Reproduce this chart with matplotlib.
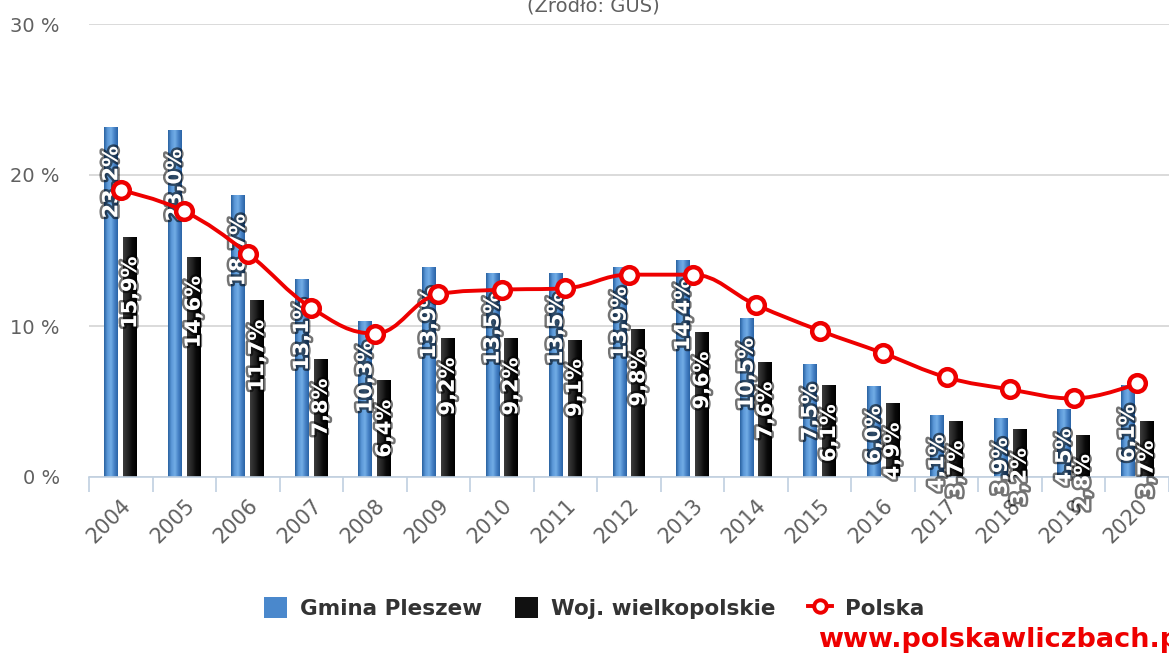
import matplotlib

matplotlib.use("Agg")

import matplotlib.pyplot as plt
import matplotlib.patheffects as pe
import numpy as np
from matplotlib.colors import LinearSegmentedColormap
from matplotlib.lines import Line2D
from matplotlib.patches import PathPatch, Patch
from matplotlib.path import Path

years = ["2004", "2005", "2006", "2007", "2008", "2009", "2010", "2011", "2012",
         "2013", "2014", "2015", "2016", "2017", "2018", "2019", "2020"]
gmina = [23.2, 23.0, 18.7, 13.1, 10.3, 13.9, 13.5, 13.5, 13.9, 14.4, 10.5,
         7.5, 6.0, 4.1, 3.9, 4.5, 6.1]
woj = [15.9, 14.6, 11.7, 7.8, 6.4, 9.2, 9.2, 9.1, 9.8, 9.6, 7.6,
       6.1, 4.9, 3.7, 3.2, 2.8, 3.7]
polska = [19.0, 17.6, 14.8, 11.2, 9.5, 12.1, 12.4, 12.5, 13.4, 13.4, 11.4,
          9.7, 8.2, 6.6, 5.8, 5.2, 6.2]
y_ticks = [0, 10, 20, 30]

RED = "#ee0000"
GREY = "#606060"

blue_cmap = LinearSegmentedColormap.from_list(
    "blue_bar", ["#2a62a0", "#5b98d8", "#72ade6", "#4682c6", "#2a64a6"])
black_cmap = LinearSegmentedColormap.from_list(
    "black_bar", ["#3c3c3c", "#262626", "#0a0a0a", "#000000"])


def gradient_bars(ax, xs, heights, width, cmap):
    grad = np.linspace(0, 1, 64).reshape(1, -1)
    for x, h in zip(xs, heights):
        rect = plt.Rectangle((x - width / 2, 0), width, h, facecolor="none",
                             edgecolor="none")
        ax.add_patch(rect)
        im = ax.imshow(grad, cmap=cmap, aspect="auto", zorder=2,
                       extent=(x - width / 2, x + width / 2, 0, h))
        im.set_clip_path(rect)


def spline_path(xs, ys, smoothing=1.5):
    # same control points as a Highcharts "spline" series
    xs = [float(v) for v in xs]
    ys = [float(v) for v in ys]
    n = len(xs)
    left = [(xs[i], ys[i]) for i in range(n)]
    right = [(xs[i], ys[i]) for i in range(n)]
    denom = smoothing + 1
    for i in range(1, n - 1):
        px, py = xs[i], ys[i]
        lx, ly = xs[i - 1], ys[i - 1]
        nx, ny = xs[i + 1], ys[i + 1]
        lcx = (smoothing * px + lx) / denom
        lcy = (smoothing * py + ly) / denom
        rcx = (smoothing * px + nx) / denom
        rcy = (smoothing * py + ny) / denom
        corr = 0.0
        if rcx != lcx:
            corr = (rcy - lcy) * (rcx - px) / (rcx - lcx) + py - rcy
        lcy += corr
        rcy += corr
        if lcy > ly and lcy > py:
            lcy = max(ly, py)
            rcy = 2 * py - lcy
        elif lcy < ly and lcy < py:
            lcy = min(ly, py)
            rcy = 2 * py - lcy
        if rcy > ny and rcy > py:
            rcy = max(ny, py)
            lcy = 2 * py - rcy
        elif rcy < ny and rcy < py:
            rcy = min(ny, py)
            lcy = 2 * py - rcy
        left[i] = (lcx, lcy)
        right[i] = (rcx, rcy)
    verts = [(xs[0], ys[0])]
    codes = [Path.MOVETO]
    for i in range(1, n):
        verts += [right[i - 1], left[i], (xs[i], ys[i])]
        codes += [Path.CURVE4] * 3
    return Path(verts, codes)


fig = plt.figure(figsize=(11.69, 6.62), dpi=100)
ax = fig.add_axes([89 / 1169, 1 - 477 / 662, 1080 / 1169, (477 - 24) / 662])

x = np.arange(len(years))
offset = 0.148
bar_w = 0.22

gradient_bars(ax, x - offset, gmina, bar_w, blue_cmap)
gradient_bars(ax, x + offset, woj, bar_w, black_cmap)

label_fx = [pe.withStroke(linewidth=3.5, foreground=(0, 0, 0, 0.55))]
for xi, g, w in zip(x, gmina, woj):
    for xx, v in ((xi - offset, g), (xi + offset, w)):
        ax.annotate(f"{v:.1f}%".replace(".", ","), xy=(xx, v),
                    xytext=(0, -14), textcoords="offset points",
                    rotation=90, ha="center", va="top", color="white",
                    fontsize=15, fontweight="bold", zorder=5,
                    path_effects=label_fx, annotation_clip=False)

ax.add_patch(PathPatch(spline_path(x, polska), facecolor="none",
                       edgecolor=RED, linewidth=2.8, zorder=6,
                       capstyle="round"))
ax.plot(x, polska, linestyle="none", marker="o", markersize=12,
        markerfacecolor="white", markeredgecolor=RED, markeredgewidth=3.2,
        zorder=7)

ax.set_xlim(-0.5, -0.5 + 1080 / 64.3)
ax.set_ylim(0, 30)

ax.set_yticks(y_ticks)
ax.set_yticklabels([f"{t} %" for t in y_ticks])
ax.yaxis.grid(True, color="#d8d8d8", linewidth=1.3)
ax.set_axisbelow(True)
ax.tick_params(axis="y", length=0, pad=21, labelsize=14, labelcolor=GREY)

ax.set_xticks(x)
ax.set_xticklabels(years, rotation=45, ha="right", va="top",
                   rotation_mode="anchor")
ax.set_xticks(np.arange(len(years) + 1) - 0.5, minor=True)
ax.tick_params(axis="x", which="major", length=0, pad=13, labelsize=15,
               labelcolor=GREY)
ax.tick_params(axis="x", which="minor", length=11, width=1.2,
               color="#c0d0e0")

for side in ("top", "right", "left"):
    ax.spines[side].set_visible(False)
ax.spines["bottom"].set_color("#c0d0e0")
ax.spines["bottom"].set_linewidth(1.2)

fig.text(593 / 1169, 1 - 12 / 662, "(Źródło: GUS)", ha="center",
         va="baseline", fontsize=14, color=GREY)

handles = [
    Patch(facecolor="#4a88cc", edgecolor="none", label="Gmina Pleszew"),
    Patch(facecolor="#111111", edgecolor="none", label="Woj. wielkopolskie"),
    Line2D([], [], color=RED, linewidth=2.8, marker="o", markersize=9,
           markerfacecolor="white", markeredgecolor=RED, markeredgewidth=2.8,
           label="Polska"),
]
fig.legend(handles=handles, loc="center", bbox_to_anchor=(0.508, 1 - 608 / 662),
           ncol=3, frameon=False, handlelength=1.1, handleheight=1.1,
           handletextpad=0.6, columnspacing=1.5,
           prop={"size": 15.5, "weight": "bold"}, labelcolor="#333333")

fig.text(818 / 1169, 1 - 640 / 662, "www.polskawliczbach.pl", ha="left",
         va="center", fontsize=19.5, fontweight="bold", color=RED)

fig.savefig("out.png", dpi=100)
